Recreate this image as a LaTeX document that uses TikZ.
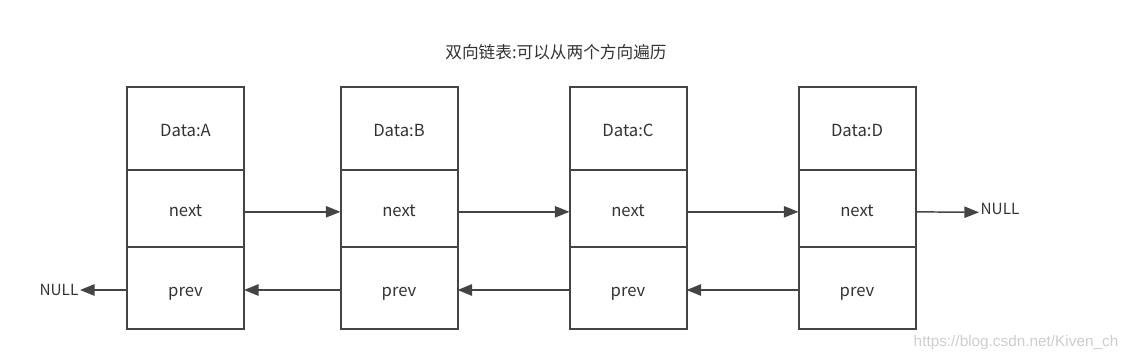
\documentclass[tikz,border=0pt]{standalone}
\usepackage{fontspec}
\newfontfamily\cjk{Noto Sans CJK SC}
\newfontfamily\marksans{Liberation Sans}
\usetikzlibrary{arrows.meta,positioning}
\definecolor{linecol}{RGB}{68,68,68}
\definecolor{textcol}{RGB}{51,51,51}
\definecolor{markcol}{RGB}{205,205,205}
\tikzset{
  % one field of a list node
  field/.style={rectangle, draw=linecol, line width=1.5pt, outer sep=0pt, inner sep=0pt,
                minimum width=87.75pt, minimum height=#1, text height=12pt, text depth=0pt,
                font=\cjk\fontsize{12.5}{15}\selectfont, text=textcol},
  field/.default={57.75pt},
  % pointer arrow
  ptr/.style={-{Triangle[length=11pt,width=8.5pt]}, draw=linecol, line width=#1},
  ptr/.default={1.1pt},
  % NULL end label
  nulltext/.style={font=\cjk\fontsize{11.5}{14}\selectfont, text=textcol, inner sep=1pt},
}

\begin{document}
\begin{tikzpicture}[x=0.75pt, y=-0.75pt]
  \useasboundingbox (0,0) rectangle (1132,361);

  % ═══════ TITLE ═══════
  \node[font=\cjk\fontsize{12.5}{15}\selectfont, text=textcol] (title) at (556,52)
    {双向链表:可以从两个方向遍历};

  % ═══════ LIST NODES ═══════
  \foreach \n/\x in {A/185.5, B/399, C/628, D/857}{
    \node[field=62.25pt] (d\n) at (\x,128.5) {Data:\n};
    \node[field=57.75pt, below=0pt of d\n] (n\n) {next};
    \node[field=61.5pt, below=0pt of n\n] (p\n) {prev};
  }

  % next pointers
  \draw[ptr] ([yshift=-2.5pt]nA.east) -- ([yshift=-2.5pt]nB.west);
  \draw[ptr] ([yshift=-2.5pt]nB.east) -- ([yshift=-2.5pt]nC.west);
  \draw[ptr] ([yshift=-2.5pt]nC.east) -- ([yshift=-2.5pt]nD.west);
  \node[nulltext, anchor=west] (nullR) at (979,209) {NULL};
  \draw[ptr] ([yshift=-2.5pt]nD.east) -- ([yshift=-2.5pt]nullR.west);

  % prev pointers
  \draw[ptr=1.5pt] ([yshift=-1.5pt]pD.west) -- ([yshift=-1.5pt]pC.east);
  \draw[ptr=1.5pt] ([yshift=-1.5pt]pC.west) -- ([yshift=-1.5pt]pB.east);
  \draw[ptr=1.5pt] ([yshift=-1.5pt]pB.west) -- ([yshift=-1.5pt]pA.east);
  \node[nulltext, anchor=east] (nullL) at (80,290) {NULL};
  \draw[ptr=1.5pt] ([yshift=-1.5pt]pA.west) -- (nullL.east);

  % watermark
  \node[font=\marksans\fontsize{11.5}{13}\selectfont, text=markcol, anchor=east] (mark)
    at (1123,343) {https://blog.csdn.net/Kiven\_ch};

\end{tikzpicture}
\end{document}
